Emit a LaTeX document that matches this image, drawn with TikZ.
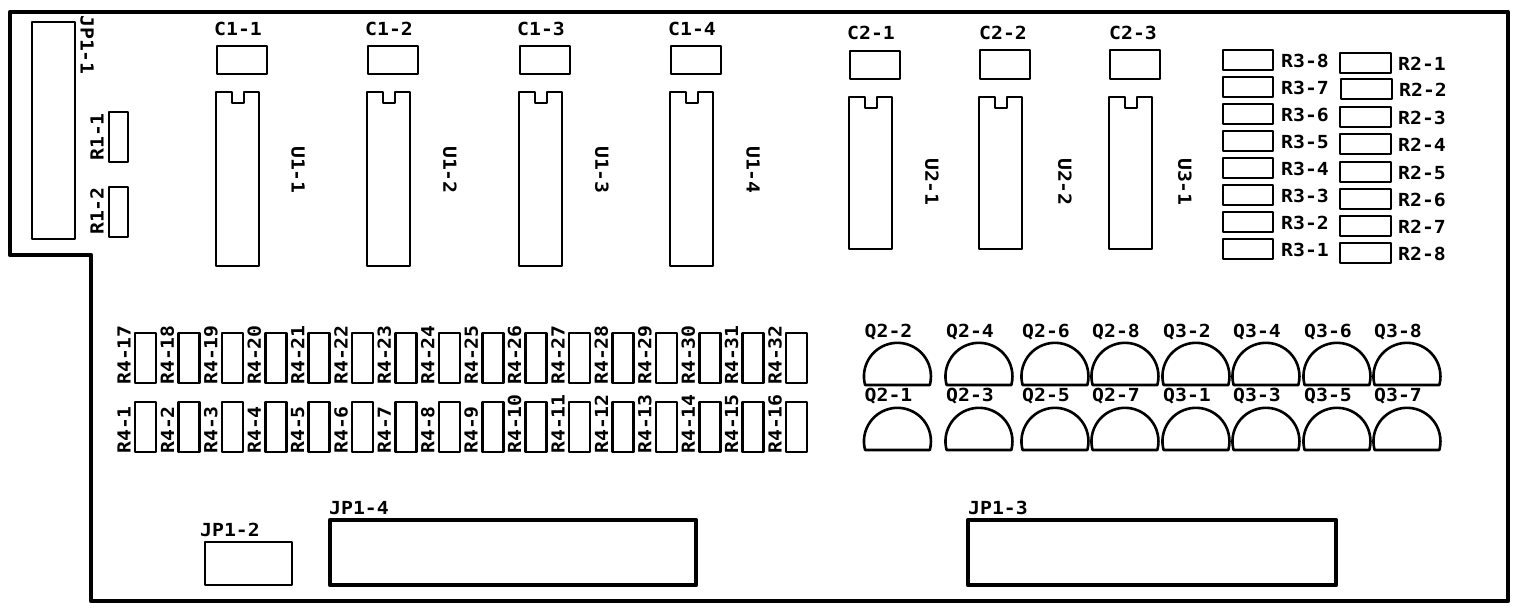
\documentclass[tikz,border=0pt]{standalone}
\usepackage{fontspec}
\newfontfamily\silkfont[FakeStretch=1.1]{DejaVu Sans Mono Bold}
\tikzset{
  board/.style={line width=4.5pt, line join=round},
  part/.style={line width=2.6pt, line join=round},
  header/.style={line width=4.5pt, line join=round},
  silk/.style={inner sep=0pt, font=\silkfont\fontsize{18}{18}\selectfont},
}
\begin{document}
\begin{tikzpicture}[x=1pt, y=-1pt]
            % fixed frame, same proportions as the reference
            \useasboundingbox (0,0) rectangle (1520,612);

            % --- BOARD OUTLINE ---
            \draw[board] (10,12) -- (1508,12) -- (1508,601) -- (91,601) -- (91,255) -- (10,255) -- cycle;

            % --- LEFT CONNECTOR AND R1 ---
            \draw[part] (32,22) rectangle (75,239);
            \node[silk, rotate=-90] (JP11) at (87,45) {JP1-1};
            \draw[part] (109,112) rectangle (128,162);
            \node[silk, rotate=90] (R11) at (97,137) {R1-1};
            \draw[part] (109,187) rectangle (128,237);
            \node[silk, rotate=90] (R12) at (97,211) {R1-2};

            % --- C1 CAPACITORS AND U1 CHIPS ---
            \foreach \n/\xa/\xl/\xu in {1/216/238/298, 2/367/389/450, 3/519/541/602, 4/670/692/753} {
                \draw[part] (\xa+1,46) rectangle (\xa+51,74);
                \node[silk] (C1\n) at (\xl,29) {C1-\n};
                \draw[part] (\xa,92) -- (\xa+16,92) -- (\xa+16,103) -- (\xa+28,103) -- (\xa+28,92)
                    -- (\xa+43,92) -- (\xa+43,266) -- (\xa,266) -- cycle;
                \node[silk, rotate=-90] (U1\n) at (\xu,170) {U1-\n};
            }

            % --- C2 CAPACITORS, U2 AND U3 CHIPS ---
            \foreach \name/\txtc/\txtu/\xa/\xl/\xu/\yc in {C21/C2-1/U2-1/849/871/932/51, C22/C2-2/U2-2/979/1003/1065/50, C23/C2-3/U3-1/1109/1133/1185/50} {
                \draw[part] (\xa+1,\yc) rectangle (\xa+51,79);
                \node[silk] (\name) at (\xl,33) {\txtc};
                \draw[part] (\xa,97) -- (\xa+16,97) -- (\xa+16,108) -- (\xa+28,108) -- (\xa+28,97)
                    -- (\xa+43,97) -- (\xa+43,249) -- (\xa,249) -- cycle;
                \node[silk, rotate=-90] (\name U) at (\xu,182) {\txtu};
            }

            % --- R3 COLUMN ---
            \foreach \n/\ya in {8/50, 7/77, 6/104, 5/131, 4/158, 3/185, 2/212, 1/239} {
                \draw[part] (1223,\ya) rectangle (1273,\ya+20);
                \node[silk] (R3\n) at (1305,\ya+11) {R3-\n};
            }

            % --- R2 COLUMN ---
            \foreach \n/\ya/\xa in {1/53/1340, 2/79/1341, 3/107/1340, 4/134/1340, 5/162/1340, 6/189/1340, 7/216/1340, 8/243/1340} {
                \draw[part] (\xa,\ya) rectangle (\xa+51,\ya+20);
                \node[silk] (R2\n) at (\xa+82,\ya+11) {R2-\n};
            }

            % --- R4 ROWS ---
            \foreach \n in {1,...,16} {
                \pgfmathsetmacro{\xa}{135+43.4*(\n-1)}
                \pgfmathtruncatemacro{\m}{\n+16}
                \draw[part] (\xa,333) rectangle (\xa+21,383);
                \node[silk, rotate=90, anchor=west] (R4\m) at (\xa-11,385) {R4-\m};
                \draw[part] (\xa,402) rectangle (\xa+21,452);
                \node[silk, rotate=90, anchor=west] (R4\n) at (\xa-11,454) {R4-\n};
            }

            % --- TRANSISTORS ---
            \foreach \name/\txta/\txtb/\xc in {Q22/Q2-2/Q2-1/897.5, Q24/Q2-4/Q2-3/979, Q26/Q2-6/Q2-5/1055, Q28/Q2-8/Q2-7/1125, Q32/Q3-2/Q3-1/1196, Q34/Q3-4/Q3-3/1266, Q36/Q3-6/Q3-5/1337, Q38/Q3-8/Q3-7/1407} {
                \draw[part] (\xc-32.4,385) arc[start angle=165, end angle=375, radius=33.5] -- cycle;
                \draw[part] (\xc-32.4,450) arc[start angle=165, end angle=375, radius=33.5] -- cycle;
                \node[silk, anchor=west] (\name) at (\xc-33,332) {\txta};
                \node[silk, anchor=west] (\name b) at (\xc-33,396) {\txtb};
            }

            % --- BOTTOM CONNECTORS ---
            \draw[part] (205,542) rectangle (292,585);
            \node[silk, anchor=west] (JP12) at (200,530) {JP1-2};
            \draw[header] (330,520) rectangle (696,585);
            \node[silk, anchor=west] (JP14) at (329,508) {JP1-4};
            \draw[header] (968,520) rectangle (1336,585);
            \node[silk, anchor=west] (JP13) at (968,508) {JP1-3};

        \end{tikzpicture}
\end{document}
